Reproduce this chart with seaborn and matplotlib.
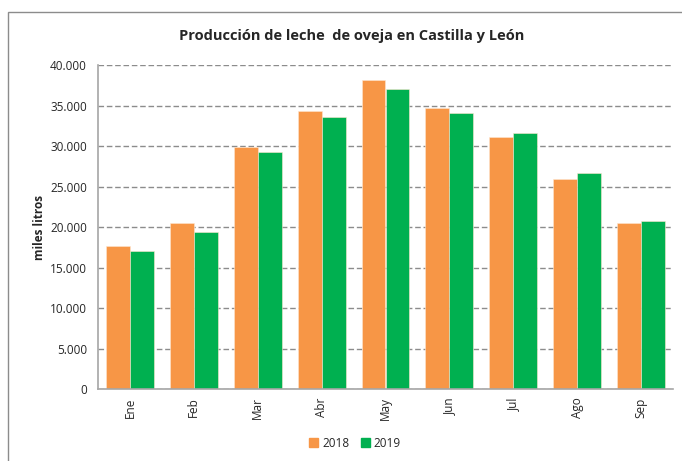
import pandas as pd
import numpy as np
import matplotlib
matplotlib.use("Agg")
import matplotlib.pyplot as plt
import seaborn as sns
from matplotlib.patches import Rectangle
from matplotlib.ticker import FuncFormatter, FixedLocator

# ==========================================
# DATA (miles de litros)
# ==========================================
meses = ["Ene", "Feb", "Mar", "Abr", "May", "Jun", "Jul", "Ago", "Sep"]
prod_2018 = [17700, 20500, 29850, 34300, 38100, 34650, 31050, 25950, 20500]
prod_2019 = [17000, 19350, 29250, 33550, 37000, 34050, 31550, 26700, 20800]
years = ["2018", "2019"]
colors = ["#F79646", "#00B050"]

df = pd.DataFrame({
    "mes": meses * 2,
    "valor": prod_2018 + prod_2019,
    "anio": [years[0]] * len(meses) + [years[1]] * len(meses),
})

# ==========================================
# PLOT
# ==========================================
sns.set_style("white")
plt.rcParams["font.family"] = ["Open Sans", "DejaVu Sans"]

fig = plt.figure(figsize=(6.82, 4.61), dpi=100)
ax = fig.add_axes([98 / 682, 72 / 461, 575 / 682, 324 / 461])

sns.barplot(data=df, x="mes", y="valor", hue="anio", palette=colors,
            width=0.75, saturation=1, ax=ax, legend=False,
            edgecolor="#FFE6D0", linewidth=0.4)

ax.set_ylim(0, 40000)
ax.set_xlim(-0.5, len(meses) - 0.5)
ax.set_yticks(np.arange(0, 40001, 5000))
ax.yaxis.set_major_formatter(FuncFormatter(lambda v, p: f"{int(v):,}".replace(",", ".")))
ax.yaxis.grid(True, linestyle=(0, (4, 2)), color="#8C8C8C", linewidth=1.0)
ax.set_axisbelow(True)

for s in ["top", "right"]:
    ax.spines[s].set_visible(False)
for s in ["left", "bottom"]:
    ax.spines[s].set_color("#A6A6A6")
    ax.spines[s].set_linewidth(1.2)

ax.tick_params(axis="y", which="major", length=4, color="#A6A6A6", labelsize=8.5, pad=4)
ax.tick_params(axis="x", which="major", length=0, labelsize=8.5, pad=6)
ax.xaxis.set_minor_locator(FixedLocator(np.arange(-0.5, len(meses), 1.0)))
ax.tick_params(axis="x", which="minor", length=4, color="#A6A6A6", direction="out")
plt.setp(ax.get_xticklabels(), rotation=90)

ax.set_xlabel("")
ax.set_ylabel("miles litros", fontsize=8.5, fontweight="bold", labelpad=3)

fig.text(352 / 682, 1 - 36 / 461, "Producción de leche  de oveja en Castilla y León",
         ha="center", va="center", fontsize=10.5, fontweight="bold")

# legend
handles = [Rectangle((0, 0), 1, 1, color=c) for c in colors]
fig.legend(handles, years, loc="center", bbox_to_anchor=(355 / 682, 1 - 443 / 461),
           ncol=2, frameon=False, fontsize=8.5, handlelength=0.8, handleheight=0.8,
           handletextpad=0.3, columnspacing=1.0)

# chart area border
fig.patches.append(Rectangle((8 / 682, -0.1), 1.0, 1 - 12 / 461 + 0.1,
                             transform=fig.transFigure, fill=False,
                             edgecolor="#8C8C8C", linewidth=1.0))

fig.savefig("out.png", dpi=100)
